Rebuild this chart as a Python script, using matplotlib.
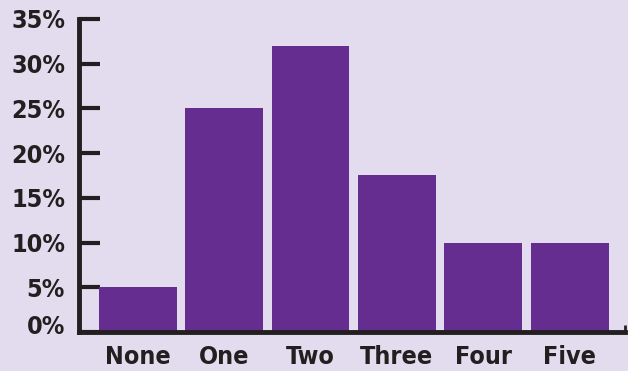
import matplotlib.pyplot as plt
from matplotlib.transforms import ScaledTranslation

# values
categories = ["None", "One", "Two", "Three", "Four", "Five"]
shares = [5.0, 25.0, 32.0, 17.6, 10.0, 9.9]
yticks = [0, 5, 10, 15, 20, 25, 30, 35]

bg = "#e3dcee"
bar_color = "#652d90"
ink = "#231f20"

fig = plt.figure(figsize=(6.28, 3.71), dpi=100)
fig.patch.set_facecolor(bg)
W, H = 628, 371
ax = fig.add_axes([79 / W, (H - 332) / H, (625 - 79) / W, (332 - 19) / H])
ax.set_facecolor(bg)

x = range(len(categories))
ax.bar(x, shares, width=0.9, color=bar_color, zorder=2)

xmax = 5.64
ax.set_xlim(-0.68, xmax)
ax.set_ylim(0, 35)
ax.set_yticks(yticks)
ax.set_yticklabels([f"{v}%" for v in yticks])
ax.set_xticks(list(x))
ax.set_xticklabels(categories)
ax.set_xticks([xmax], minor=True)

for side in ["top", "right"]:
    ax.spines[side].set_visible(False)
for side in ["left", "bottom"]:
    ax.spines[side].set_linewidth(3.5)
    ax.spines[side].set_color(ink)
    ax.spines[side].set_capstyle("projecting")

ax.tick_params(axis="y", direction="in", length=15, width=3, color=ink, pad=10)
ax.tick_params(axis="x", which="major", length=0, pad=9)
ax.tick_params(axis="x", which="minor", direction="in", length=5, width=2, color=ink)
for lab in ax.get_yticklabels() + ax.get_xticklabels():
    lab.set_fontfamily("DejaVu Sans")
    lab.set_fontstretch("condensed")
    lab.set_fontweight("bold")
    lab.set_fontsize(18)
    lab.set_color(ink)

# lift the 0% label off the axis line like the original
zero = ax.get_yticklabels()[0]
zero.set_transform(zero.get_transform() + ScaledTranslation(0, 8 / 100, fig.dpi_scale_trans))

fig.savefig("out.png", dpi=100, facecolor=bg)
